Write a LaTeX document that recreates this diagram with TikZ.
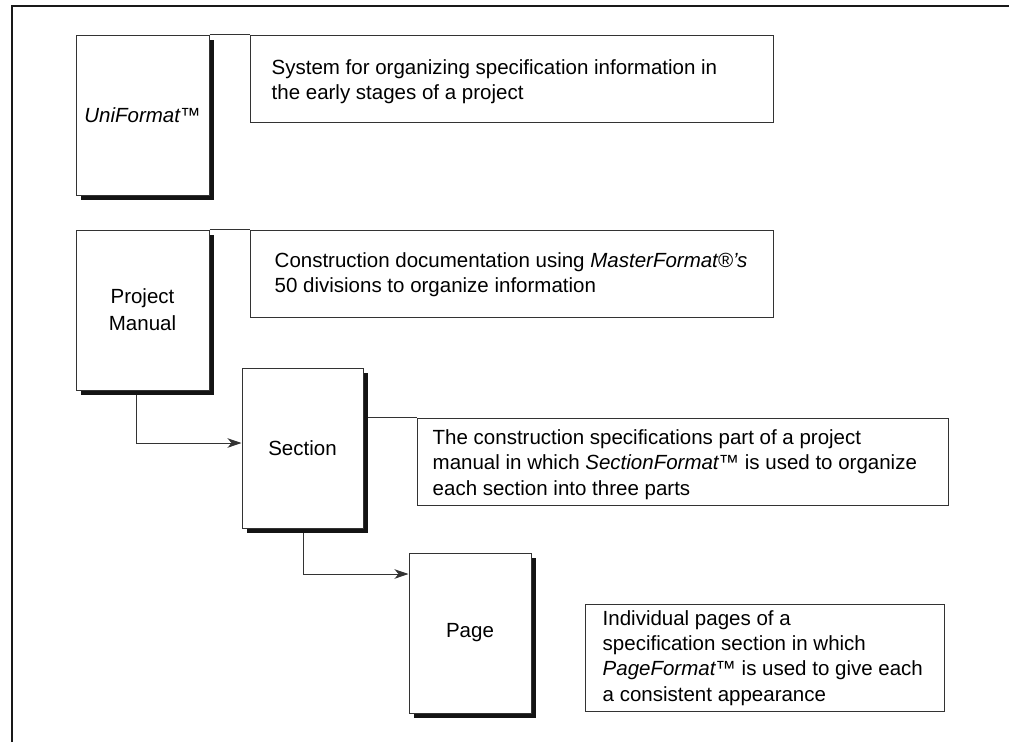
\documentclass[tikz,border=0pt]{standalone}
\usepackage{fontspec}
\setmainfont{Liberation Sans}
\usetikzlibrary{arrows.meta,calc}
\begin{document}
\begin{tikzpicture}[x=1pt,y=-1pt,
  ln/.style={draw=black!80,line width=1pt},
  arr/.style={ln,-{Stealth[length=14pt,width=9.5pt,inset=4pt]}},
  sheet/.style={rectangle,draw=black!80,line width=1pt,fill=white,inner sep=0pt,
    minimum width=#1,minimum height=160pt,align=center,font=\fontsize{20.5}{27}\selectfont},
  shadow/.style={rectangle,fill=black!92,draw=none,inner sep=0pt,minimum width=#1,minimum height=160pt},
  descbox/.style={rectangle,draw=black!80,line width=1pt,inner sep=0pt},
  desctext/.style={anchor=west,inner sep=0pt,align=left,font=\fontsize{20.5}{25.3}\selectfont}
]
\useasboundingbox (0,0) rectangle (1009,742);
% outer frame
\draw[black!90,line width=2pt] (12,742) -- (12,6) -- (1009,6);

% shadows
\node[shadow=133pt] (unish) at (147.5,120) {};
\node[shadow=133pt] (pmsh) at (147.5,315) {};
\node[shadow=121pt] (secsh) at (307.5,453) {};
\node[shadow=122pt] (pagesh) at (475,638) {};

% sheets
\node[sheet=133pt] (uni) at (142.5,115) {\itshape UniFormat™};
\node[sheet=133pt] (pm) at (142.5,310) {Project\\Manual};
\node[sheet=121pt] (sec) at (302.5,448) {Section};
\node[sheet=122pt] (page) at (470,633) {Page};

% description boxes
\node[descbox,minimum width=523pt,minimum height=87pt] (d1) at (511.5,78.5) {};
\node[descbox,minimum width=523pt,minimum height=87pt] (d2) at (511.5,273.5) {};
\node[descbox,minimum width=531pt,minimum height=87pt] (d3) at (682.5,461.5) {};
\node[descbox,minimum width=359pt,minimum height=107pt] (d4) at (764.5,657.5) {};

\node[desctext] (t1) at ($(d1.west)+(22,3)$) {System for organizing specification information in\\the early stages of a project};
\node[desctext] (t2) at ($(d2.west)+(25,1)$) {Construction documentation using \textit{MasterFormat®’s}\\50 divisions to organize information};
\node[desctext] (t3) at ($(d3.west)+(16,3)$) {The construction specifications part of a project\\manual in which \textit{SectionFormat™} is used to organize\\each section into three parts};
\node[desctext] (t4) at ($(d4.west)+(18,0.5)$) {Individual pages of a\\specification section in which\\\textit{PageFormat™} is used to give each\\a consistent appearance};

% leader lines
\draw[ln] (uni.north east) -- (d1.north west);
\draw[ln] (pm.north east) -- (d2.north west);
\draw[ln] (secsh.east |- d3.north west) -- (d3.north west);

% connectors
\coordinate (a1) at (136,443);
\coordinate (a2) at (303,574);
\draw[arr] (a1 |- pmsh.south) -- (a1) -- (a1 -| sec.west);
\draw[arr] (a2 |- secsh.south) -- (a2) -- (a2 -| page.west);
\end{tikzpicture}
\end{document}
